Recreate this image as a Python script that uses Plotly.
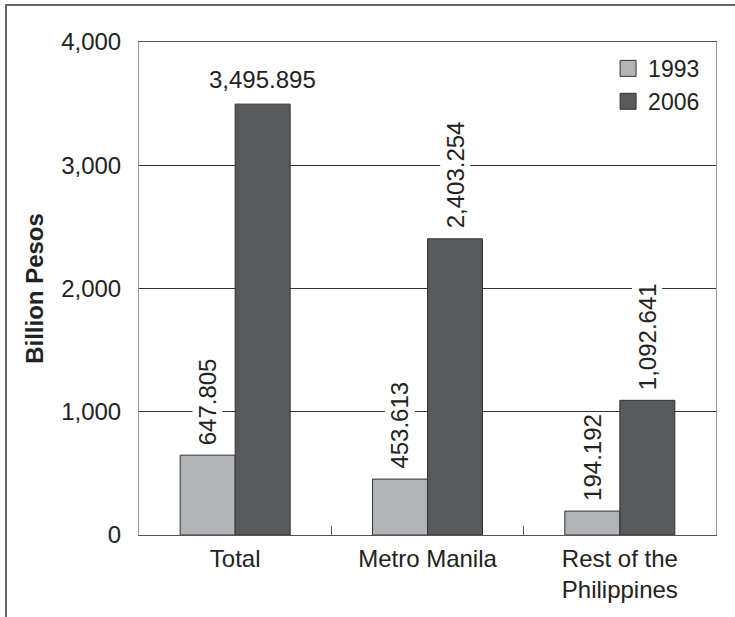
import plotly.graph_objects as go

# Data
categories = ["Total", "Metro Manila", "Rest of the<br>Philippines"]
values_1993 = [647.805, 453.613, 194.192]
values_2006 = [3495.895, 2403.254, 1092.641]
label_1993 = ["647.805", "453.613", "194.192"]
label_2006 = ["3,495.895", "2,403.254", "1,092.641"]
y_ticks = [0, 1000, 2000, 3000, 4000]
y_ticktext = ["0", "1,000", "2,000", "3,000", "4,000"]

FONT = "Liberation Sans, Arial, sans-serif"
C1993 = "#b3b4b7"
C2006 = "#58595b"
EDGE = "#333333"
BARGAP = 0.428
BAR_W = (1 - BARGAP) / 2
FS = 24

fig = go.Figure()
fig.add_trace(go.Bar(name="1993", x=categories, y=values_1993, showlegend=False,
                     marker=dict(color=C1993, line=dict(color=EDGE, width=1))))
fig.add_trace(go.Bar(name="2006", x=categories, y=values_2006, showlegend=False,
                     marker=dict(color=C2006, line=dict(color=EDGE, width=1))))

# Legend entries with larger square swatches
for name, col in [("1993", C1993), ("2006", C2006)]:
    fig.add_trace(go.Scatter(x=[None], y=[None], mode="markers", name=name,
                             marker=dict(symbol="square", size=17, color=col,
                                         line=dict(color=EDGE, width=1))))

# Value labels above the bars
annotations = []
for i, (v, t) in enumerate(zip(values_1993, label_1993)):
    annotations.append(dict(x=i - BAR_W / 2, y=v, xref="x", yref="y", text=t,
                            textangle=-90, showarrow=False, yanchor="bottom",
                            xanchor="center", yshift=8, bgcolor="white",
                            borderpad=1, font=dict(size=FS, color="#222")))
for i, (v, t) in enumerate(zip(values_2006, label_2006)):
    horizontal = v > 3000
    annotations.append(dict(x=i + BAR_W / 2, y=v, xref="x", yref="y", text=t,
                            textangle=0 if horizontal else -90, showarrow=False,
                            yanchor="bottom", xanchor="center",
                            yshift=9 if horizontal else 8, bgcolor="white",
                            borderpad=1, font=dict(size=FS, color="#222")))

fig.update_layout(
    width=735, height=617,
    margin=dict(l=139, r=19, t=42, b=82),
    paper_bgcolor="white", plot_bgcolor="white",
    font=dict(family=FONT, size=FS, color="#222"),
    barmode="group", bargap=BARGAP, bargroupgap=0,
    showlegend=True,
    legend=dict(x=0.813, y=0.99, xanchor="left", yanchor="top",
                bgcolor="rgba(0,0,0,0)", font=dict(size=23, color="#222"),
                itemwidth=30, tracegroupgap=0, itemsizing="trace"),
    annotations=annotations,
    shapes=[dict(type="rect", xref="paper", yref="paper",
                 x0=-0.2305, x1=1.2, y0=-0.3, y1=1.075,
                 line=dict(color="#666666", width=2), layer="below")],
)

fig.update_xaxes(
    type="category", showline=True, linecolor="#555555", linewidth=1, mirror=True,
    ticks="inside", tickson="boundaries", ticklen=9, tickcolor="#555555",
    showgrid=False, ticklabelstandoff=2, tickfont=dict(size=FS, color="#222"),
)
fig.update_yaxes(
    range=[0, 4000], tickvals=y_ticks, ticktext=y_ticktext,
    showline=True, linecolor="#999999", linewidth=1, mirror=True,
    showgrid=True, gridcolor="#333333", gridwidth=1,
    ticks="", ticklabelstandoff=12, zeroline=False,
    tickfont=dict(size=FS, color="#222"),
    title=dict(text="<b>Billion Pesos</b>", font=dict(size=FS, color="#222"), standoff=10),
)

fig.write_html("out.html")
